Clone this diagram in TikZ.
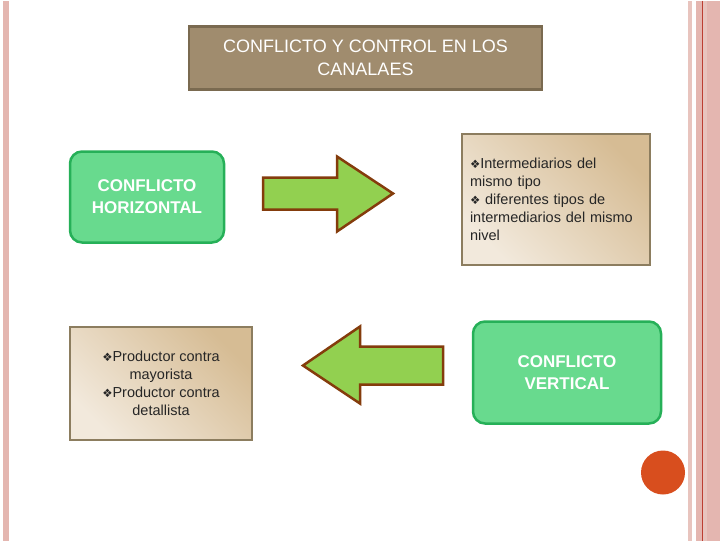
\documentclass[tikz,border=0pt]{standalone}
\usepackage{fontspec}
\setmainfont{Liberation Sans}
\newfontfamily\symfont{DejaVu Sans}
\usepackage{tikz}
\usetikzlibrary{positioning}

\definecolor{titlefill}{RGB}{160,140,110}
\definecolor{titleline}{RGB}{122,106,80}
\definecolor{greenfill}{RGB}{104,218,142}
\definecolor{greenline}{RGB}{38,176,88}
\definecolor{beigelight}{RGB}{242,233,220}
\definecolor{beigedark}{RGB}{214,188,148}
\definecolor{beigeline}{RGB}{140,125,95}
\definecolor{arrowfill}{RGB}{146,208,80}
\definecolor{arrowline}{RGB}{132,60,12}
\definecolor{dotfill}{RGB}{216,78,30}
\definecolor{stripe}{RGB}{228,182,176}
\definecolor{stripelight}{RGB}{232,196,190}
\definecolor{stripedark}{RGB}{188,62,50}

\newcommand{\bul}{{\symfont\fontsize{11.5}{11}\selectfont ❖}}

\begin{document}
\begin{tikzpicture}[
    x=1pt, y=-1pt,
    title/.style={draw=titleline, line width=2.5pt, fill=titlefill,
                  minimum width=353pt, minimum height=63pt, align=center,
                  text=white, font=\fontsize{18}{23}\selectfont},
    conflict/.style={draw=greenline, line width=2.5pt, fill=greenfill,
                     rounded corners=12pt, align=center, text=white,
                     font=\bfseries\fontsize{17}{22}\selectfont},
    detail/.style={draw=beigeline, line width=2pt,
                   top color=beigedark, bottom color=beigelight,
                   shading angle=-45, text=black!85,
                   font=\fontsize{14.5}{18}\selectfont},
    bigarrow/.style={draw=arrowline, line width=2.5pt, fill=arrowfill,
                     line join=miter},
  ]
  % --- page border stripes ---
  \fill[stripe] (3,0) rectangle (9,540);
  \fill[stripelight] (688,0) rectangle (692,540);
  \fill[stripe] (696,0) rectangle (720,540);
  \fill[stripelight] (703,0) rectangle (707,540);
  \draw[stripedark, line width=1pt] (702,0) -- (702,540);

  % --- title ---
  \node[title] (titulo) at (365.5,57.5) {CONFLICTO Y CONTROL EN LOS\\CANALAES};

  % --- horizontal ---
  \node[conflict, minimum width=154pt, minimum height=91pt] (horiz)
    at (147,196.5) {CONFLICTO\\HORIZONTAL};
  \node[detail, minimum width=188pt, minimum height=131pt,
        text width=172pt, align=left] (interm) at (556,198.5)
    {\bul Intermediarios del\\mismo tipo\\\bul{} diferentes tipos de\\intermediarios del mismo\\nivel};
  \draw[bigarrow] (263,177) -- (337,177) -- (337,156) -- (393,193)
    -- (337,231) -- (337,209) -- (263,209) -- cycle;

  % --- vertical ---
  \node[conflict, minimum width=188pt, minimum height=102pt] (vert)
    at (567,372) {CONFLICTO\\VERTICAL};
  \node[detail, minimum width=182pt, minimum height=113pt,
        align=center] (prod) at (161,382.5)
    {\bul Productor contra\\mayorista\\\bul Productor contra\\detallista};
  \draw[bigarrow] (443,346) -- (360,346) -- (360,326) -- (303,365)
    -- (360,403) -- (360,384) -- (443,384) -- cycle;

  \fill[dotfill] (663,472) circle (22pt);

  \useasboundingbox (0,0) rectangle (720,540);
\end{tikzpicture}
\end{document}
